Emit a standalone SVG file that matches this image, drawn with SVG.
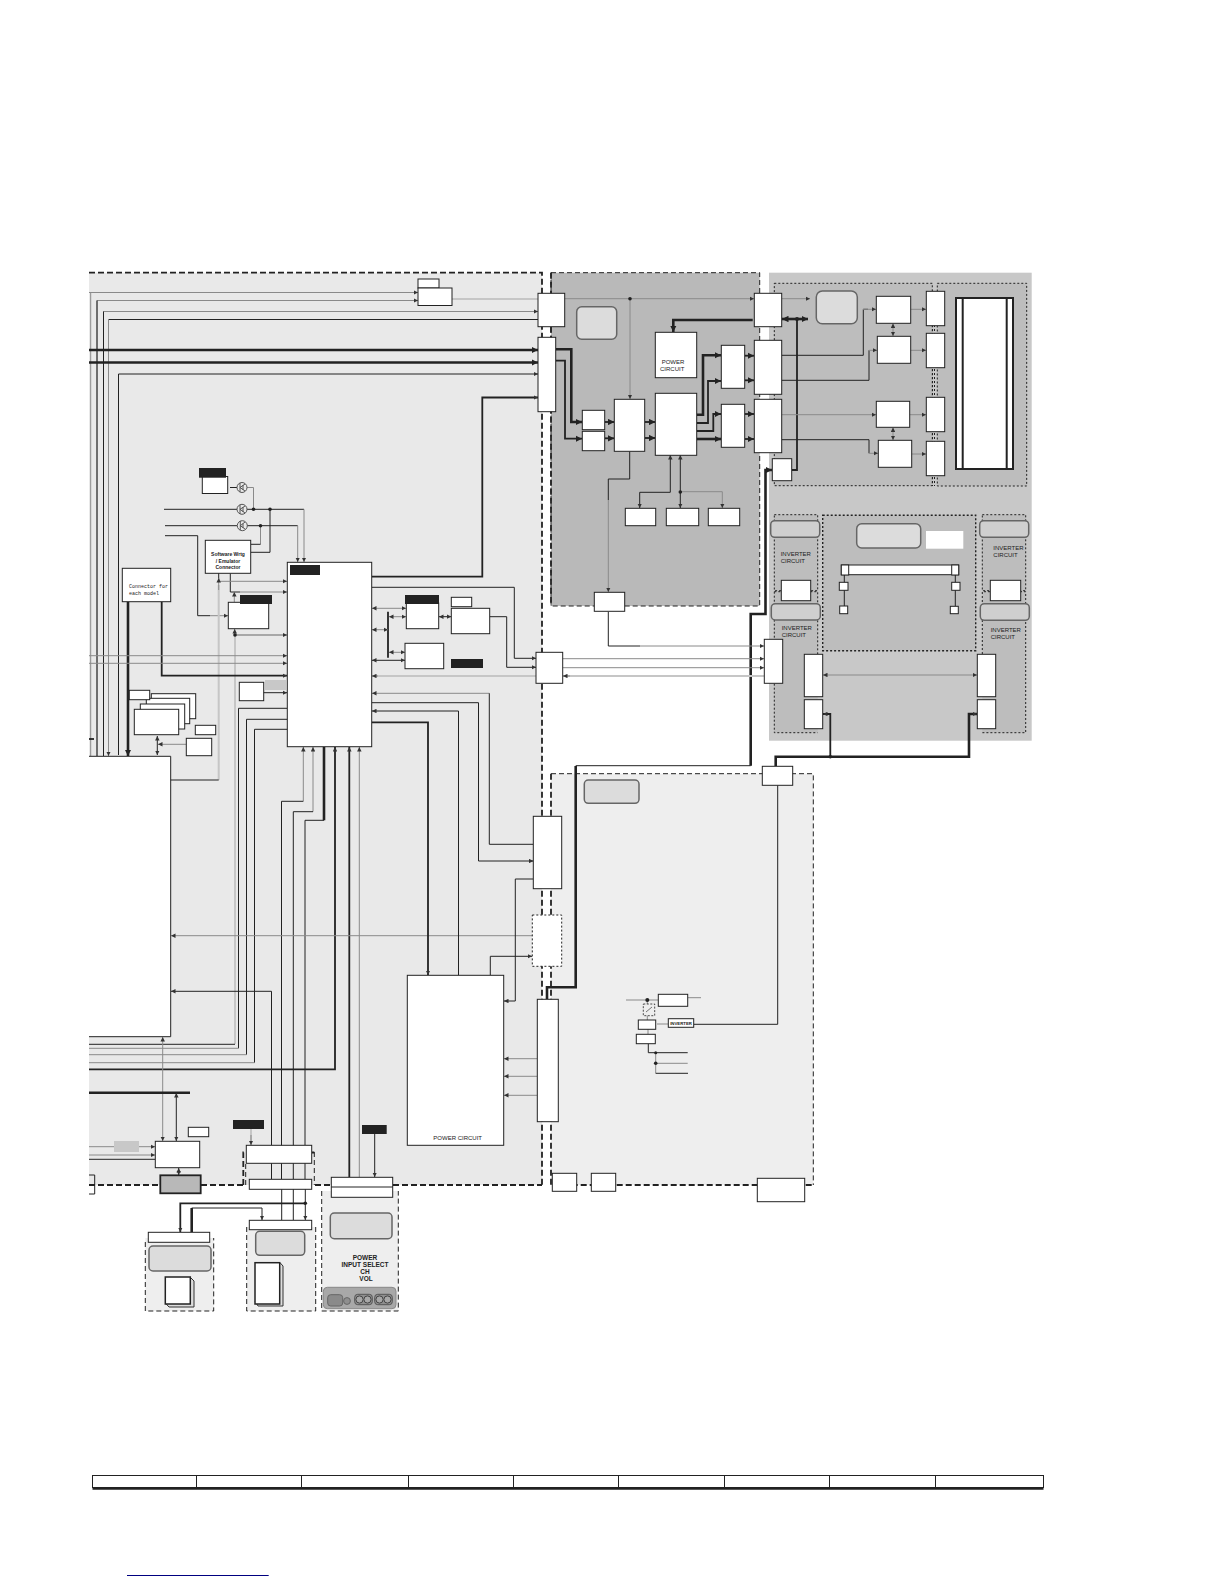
<svg xmlns="http://www.w3.org/2000/svg" width="1224" height="1584" viewBox="0 0 1224 1584">
<style>
.b{fill:#fff;stroke:#222;stroke-width:1}
.lbl{fill:#222;stroke:none}
.r{fill:#dcdcdc;stroke:#666;stroke-width:1.5}
.k,.g,.lg,.t,.T{fill:none}
.k{stroke:#222;stroke-width:1}
.g{stroke:#8a8a8a;stroke-width:1}
.lg{stroke:#c6c6c6;stroke-width:2}
.t{stroke:#222;stroke-width:1.8}
.T{stroke:#222;stroke-width:2.6}
.d{fill:#222;stroke:none}
.dash{fill:none;stroke:#222;stroke-width:1;stroke-dasharray:5 3}
.dashT{fill:none;stroke:#222;stroke-width:1.8;stroke-dasharray:6 3}
.dot{fill:none;stroke:#222;stroke-width:1;stroke-dasharray:2 2}
.txt{font-family:"Liberation Sans",Arial,sans-serif;font-size:6px;fill:#222}
.mono{font-family:"Liberation Mono",monospace;font-size:5px;fill:#222}
.bold{font-family:"Liberation Sans",Arial,sans-serif;font-size:6.5px;font-weight:bold;fill:#222;text-anchor:middle}
</style>
<defs>
<marker id="a" viewBox="0 0 6 6" refX="6" refY="3" markerWidth="4.5" markerHeight="4.5" markerUnits="userSpaceOnUse" orient="auto-start-reverse"><path d="M0 0L6 3L0 6z" fill="#333"/></marker>
<marker id="A" viewBox="0 0 6 6" refX="6" refY="3" markerWidth="6.5" markerHeight="6.5" markerUnits="userSpaceOnUse" orient="auto-start-reverse"><path d="M0 0L6 3L0 6z" fill="#222"/></marker>
</defs>
<rect width="1224" height="1584" fill="#fff"/>

<g id="backgrounds">
<rect x="89" y="272.7" width="453" height="912.3" fill="#e9e9e9"/>
<rect x="89" y="756.3" width="81.7" height="280.4" fill="#fff"/>
<rect x="551" y="272.7" width="208.7" height="333.3" fill="#b9b9b9"/>
<rect x="769" y="272.7" width="262.7" height="468" fill="#c8c8c8"/>
<rect x="774.3" y="283.3" width="158" height="202.4" fill="#bdbdbd"/>
<rect x="937.3" y="283.3" width="89.4" height="202.7" fill="#bdbdbd"/>
<rect x="774.3" y="514.7" width="43.4" height="218" fill="#bdbdbd"/>
<rect x="982.3" y="514.7" width="43.4" height="218" fill="#bdbdbd"/>
<rect x="822.7" y="515.3" width="153" height="135.4" fill="#bdbdbd"/>
<rect x="551" y="773.7" width="262.3" height="411.3" fill="#eee"/>
<rect x="145.3" y="1238" width="68.4" height="73" fill="#eee"/>
<rect x="246.7" y="1227" width="69" height="84" fill="#eee"/>
<rect x="321.7" y="1191" width="76.6" height="120" fill="#eee"/>
</g>

<g id="borders">
<path class="dashT" d="M89 272.7H542V1185M89 1185H160M201 1185H243M315 1185H331M393 1185H542"/>
<path class="dash" d="M551 272.7H759.7V606H551Z"/>
<path class="dashT" d="M551 272.7V606"/>
<path class="dashT" d="M551 773.7V1185H813"/>
<path class="dash" d="M551 773.7H813.3V1185"/>
<path class="dash" d="M145.3 1242V1311H213.7V1238"/>
<path class="dash" d="M246.7 1227V1311H315.7V1227"/>
<path class="dash" d="M321.7 1191V1311H398.3V1191"/>
<path class="dashT" d="M243.3 1185V1152.5H246M312 1152.5H314.3"/>
<path class="dash" d="M245.7 1185V1163M314.3 1152V1185"/>
<rect class="dot" x="774.3" y="283.3" width="158" height="202.4"/>
<rect class="dot" x="937.3" y="283.3" width="89.4" height="202.7"/>
<path class="dot" d="M934.5 325V486M932.5 325V486"/>
<rect class="dot" x="822.7" y="515.3" width="153" height="135.4" style="stroke-width:1.4"/>
<rect class="dot" x="774.3" y="514.7" width="43.4" height="76"/>
<path class="dot" d="M774.3 591.7H817.7V654M774.3 591.7V732.7H817.7"/>
<rect class="dot" x="982.3" y="514.7" width="43.4" height="76"/>
<path class="dot" d="M982.3 654V591.7H1025.7V732.7H982.3"/>
</g>

<g id="connectors">
<!-- top left bus -->
<path class="g" d="M89 292.5H418" marker-end="url(#a)"/>
<path class="g" d="M97 756V300.5H418" marker-end="url(#a)"/>
<path class="g" d="M103.5 756V311.5H538" marker-end="url(#a)"/>
<path class="k" d="M108.5 319.5H538"/>
<path class="g" d="M108.5 319.5V756" marker-end="url(#a)"/>
<path class="k" d="M97 300.5V756M103.5 311.5V756"/>
<path class="g" d="M90.7 292.5V756"/>
<path class="lg" d="M452 299H538"/>
<path class="T" d="M89 350H538" marker-end="url(#A)"/>
<path class="T" d="M89 362.5H538" marker-end="url(#A)"/>
<path class="k" d="M118.5 755V374H538" marker-end="url(#a)"/>
<path class="t" d="M371.7 576.7H482.3V397.5H538" marker-end="url(#a)"/>
<path class="t" d="M89 739H94"/>
<!-- transistors wiring -->
<path class="k" d="M230 487.5H237"/>
<path class="g" d="M247 487.5H253.5V509.3"/>
<path class="k" d="M164 509.3H237M247 509.3H304"/>
<path class="g" d="M304 509.3V562" marker-end="url(#a)"/>
<path class="k" d="M165 525.7H237M247 525.7H297.7"/>
<path class="g" d="M297.7 525.7V562" marker-end="url(#a)"/>
<path class="g" d="M260.5 525.7V544.3"/>
<path class="k" d="M250.7 544.3H260.5"/>
<path class="k" d="M250.7 552.3H270V509.3"/>
<path class="k" d="M165 535.7H197.7V615.7H210"/>
<path class="g" d="M210 615.7H228" marker-end="url(#a)"/>
<path class="k" d="M230.3 573.3V592H240"/>
<path class="g" d="M240 592H287" marker-end="url(#a)"/>
<path class="g" d="M234.3 592V602" marker-start="url(#a)"/>
<path class="lg" d="M218.7 585V780"/>
<path class="k" d="M218.7 580V573M170.7 780H218.7"/>
<path class="g" d="M218.7 581.3H287" marker-end="url(#a)"/>
<path class="g" d="M218.7 590V578" marker-end="url(#a)"/>
<path class="lg" d="M235 635V1044"/>
<path class="lg" d="M235 635H287"/>
<path class="g" d="M235 635H287" marker-end="url(#a)"/>
<path class="g" d="M234.7 635V629" marker-end="url(#a)"/>
<!-- connector for each model -->
<path class="T" d="M128 601.7V756" marker-end="url(#A)"/>
<path class="t" d="M161.7 601.7V675.7H287" marker-end="url(#a)"/>
<path class="g" d="M89 655.7H287" marker-end="url(#a)"/>
<path class="g" d="M89 663.3H287" marker-end="url(#a)"/>
<path class="k" d="M262 692.7H287" marker-end="url(#a)"/>
<path class="k" d="M157.3 736V755" marker-start="url(#a)" marker-end="url(#a)"/>
<path class="g" d="M186 744.3H158" marker-end="url(#a)"/>
<!-- main chip left lower -->
<path class="k" d="M287.3 708.3H238.5V1048.3"/>
<path class="k" d="M287.3 719.3H246.5V1054.7"/>
<path class="k" d="M287.3 729.3H254.5V1062.7"/>
<path class="k" d="M89 1044.3H235"/>
<path class="g" d="M89 1048.3H238.5"/>
<path class="g" d="M89 1054.7H246.5"/>
<path class="g" d="M89 1062.7H254.5"/>
<path class="t" d="M89 1069.3H335V747" marker-end="url(#a)"/>
<path class="k" d="M170.7 756.3H89M170.7 756.3V1036.7H89"/>
<path class="g" d="M303.3 801.3V747" marker-end="url(#a)"/>
<path class="k" d="M303.3 801.3H281.5V1179"/>
<path class="g" d="M313 811.7V747" marker-end="url(#a)"/>
<path class="k" d="M313 811.7H293.3V1179"/>
<path class="T" d="M324 747V820.3"/>
<path class="k" d="M324 820.3H305V1145"/>
<path class="k" d="M305 1163V1179"/>
<path class="t" d="M349.3 1177V747" marker-end="url(#a)"/>
<path class="g" d="M359.3 1177V747" marker-end="url(#a)"/>
<path class="g" d="M532 935.7H171" marker-end="url(#a)"/>
<path class="k" d="M271.5 1145V991.3H171" marker-end="url(#a)"/>
<path class="k" d="M271.5 1163V1179"/>
<path class="g" d="M162.7 1037V1141" marker-start="url(#a)" marker-end="url(#a)"/>
<path class="T" d="M89 1092.7H190"/>
<path class="k" d="M176.3 1093V1141" marker-start="url(#a)" marker-end="url(#a)"/>
<path class="k" d="M178.7 1168V1175" marker-start="url(#a)" marker-end="url(#a)"/>
<path class="g" d="M89 1146.7H155" marker-end="url(#a)"/>
<path class="g" d="M89 1155H155" marker-end="url(#a)"/>
<path class="k" d="M89 1159.3H155"/>
<!-- main chip right -->
<path class="t" d="M388 611.7V657.7"/>
<path class="g" d="M372 608.3H406" marker-start="url(#a)" marker-end="url(#a)"/>
<path class="g" d="M389 616.7H406" marker-start="url(#a)" marker-end="url(#a)"/>
<path class="g" d="M372 629.7H388" marker-start="url(#a)" marker-end="url(#a)"/>
<path class="g" d="M389 652.3H405" marker-start="url(#a)" marker-end="url(#a)"/>
<path class="k" d="M372 660.3H405" marker-start="url(#a)" marker-end="url(#a)"/>
<path class="k" d="M439 616.7H451.3" marker-start="url(#a)" marker-end="url(#a)"/>
<path class="k" d="M371.7 587.3H514.3V658.3H536" marker-end="url(#a)"/>
<path class="k" d="M489.7 616.7H506.7V667.3H536" marker-end="url(#a)"/>
<path class="lg" d="M372 676H536"/>
<path class="g" d="M378 676H372" marker-end="url(#a)"/>
<path class="g" d="M489.3 693.3H372" marker-end="url(#a)"/>
<path class="k" d="M489.3 693.3V844.3H533.3"/>
<path class="k" d="M371.7 702.7H478.5V861H533.3" marker-end="url(#a)"/>
<path class="k" d="M458.5 711H372" marker-end="url(#a)"/>
<path class="k" d="M458.5 711V975.3"/>
<path class="t" d="M371.7 722.3H428V975" marker-end="url(#a)"/>
<!-- power circuit -->
<path class="k" d="M533.3 879H515.3V1001H504" marker-end="url(#a)"/>
<path class="k" d="M490.3 975V956.3H532" marker-end="url(#a)"/>
<path class="g" d="M537 1058.7H504" marker-end="url(#a)"/>
<path class="g" d="M537 1076.3H504" marker-end="url(#a)"/>
<path class="g" d="M537 1095.3H504" marker-end="url(#a)"/>
<!-- thick main feed -->
<path class="T" d="M547 999V987.3H575.7V766"/>
<path class="k" d="M575.7 765.7H750.7"/>
<path class="T" d="M750.7 765.7V614H765.5V470H772" marker-end="url(#A)"/>
<path class="g" d="M562.7 658.7H764" marker-end="url(#a)"/>
<path class="g" d="M562.7 667.7H764" marker-end="url(#a)"/>
<path class="lg" d="M563 676H764"/>
<path class="g" d="M570 676H563" marker-end="url(#a)"/>
<path class="k" d="M608.3 611.7V646H640"/>
<path class="g" d="M640 646H764" marker-end="url(#a)"/>
<!-- board 2 -->
<path class="g" d="M564.7 298.7H754" marker-end="url(#a)"/>
<path class="g" d="M630 298.7V399" marker-end="url(#a)"/>
<path class="g" d="M781.7 298.7H810" marker-end="url(#a)"/>
<path class="T" d="M752.7 320H673.3V332" marker-end="url(#A)"/>
<path class="T" d="M782 319H808" marker-start="url(#A)" marker-end="url(#A)"/>
<path class="t" d="M797 319V470H792"/>
<path class="T" d="M555.7 349.3H571.3V422H582" marker-end="url(#A)"/>
<path class="t" d="M555.7 360.7H565V438.7H582" marker-end="url(#A)"/>
<path class="t" d="M604.7 422H614.3" marker-end="url(#A)"/>
<path class="t" d="M604.7 438.3H614.3" marker-end="url(#A)"/>
<path class="t" d="M644.7 422H655.3" marker-end="url(#A)"/>
<path class="t" d="M644.7 438H655.3" marker-end="url(#A)"/>
<path class="T" d="M696.7 414.7H703V355.3H721" marker-end="url(#A)"/>
<path class="t" d="M696.7 423H708V381H721" marker-end="url(#A)"/>
<path class="t" d="M696.7 431H713.3V414H721" marker-end="url(#A)"/>
<path class="T" d="M696.7 439H721" marker-end="url(#A)"/>
<path class="t" d="M744.7 355.7H754" marker-end="url(#A)"/>
<path class="t" d="M744.7 380.3H754" marker-end="url(#A)"/>
<path class="t" d="M744.7 414H754" marker-end="url(#A)"/>
<path class="t" d="M744.7 439H754" marker-end="url(#A)"/>
<path class="k" d="M670.3 455V492.3H639.7V508" marker-start="url(#a)" marker-end="url(#a)"/>
<path class="k" d="M680.3 455V508" marker-start="url(#a)" marker-end="url(#a)"/>
<path class="g" d="M680.3 491.7H722.3V508" marker-end="url(#a)"/>
<path class="k" d="M629.7 451.3V479H608.3V500"/>
<path class="g" d="M608.3 500V592" marker-end="url(#a)"/>
<!-- panel -->
<path class="k" d="M781.7 355.3H863.3V309.3H868"/>
<path class="g" d="M863 309.3H876" marker-end="url(#a)"/>
<path class="k" d="M781.7 380.3H869V350.3"/>
<path class="g" d="M869 350.3H877" marker-end="url(#a)"/>
<path class="g" d="M781.7 414.7H876" marker-end="url(#a)"/>
<path class="k" d="M781.7 439.7H869V453.3"/>
<path class="g" d="M869 453.3H878" marker-end="url(#a)"/>
<path class="g" d="M893 323.5V336" marker-start="url(#a)" marker-end="url(#a)"/>
<path class="g" d="M893 427.5V440" marker-start="url(#a)" marker-end="url(#a)"/>
<path class="g" d="M906 309.3H926" marker-end="url(#a)"/>
<path class="g" d="M906 350.3H926" marker-end="url(#a)"/>
<path class="g" d="M906 414.7H926" marker-end="url(#a)"/>
<path class="g" d="M908 454H926" marker-end="url(#a)"/>
<path class="g" d="M823 675H977" marker-start="url(#a)" marker-end="url(#a)"/>
<path class="T" d="M775.7 766V756.7H969V714H977" marker-end="url(#a)"/>
<path class="t" d="M830.3 756.7V714H823" marker-end="url(#a)"/>
<path class="k" d="M844.3 575V606M955.3 575V606"/>
<path class="k" d="M777.7 785.3V1024.3H693.7"/>
<!-- small circuit -->
<path class="g" d="M626 1000H658.3"/>
<path class="g" d="M687.7 997.7H701"/>
<path class="g" d="M647.3 1000V1020"/>
<path class="g" d="M657 1024H668"/>
<path class="g" d="M648 1029V1034"/>
<path class="k" d="M648.3 1043.7V1052.7H687.7"/>
<path class="g" d="M655.7 1052.7V1073.3"/>
<path class="g" d="M655.7 1063.3H687.7"/>
<path class="k" d="M655.7 1073.3H688"/>
<!-- bottom cables -->
<path class="lg" d="M251 1129V1145"/>
<path class="g" d="M251 1135V1145" marker-end="url(#a)"/>
<path class="k" d="M374.7 1134V1177" marker-end="url(#a)"/>
<path class="t" d="M305.3 1203.3H180.3V1232" marker-end="url(#a)"/>
<path class="k" d="M305.3 1189V1220" marker-end="url(#a)"/>
<path class="k" d="M281.7 1189V1220M293.3 1189V1220"/>
<path class="T" d="M191.7 1232V1208"/>
<path class="k" d="M191.7 1208H262V1220" marker-end="url(#a)"/>
<!-- dots -->
<circle class="d" cx="253.5" cy="509.3" r="1.8"/>
<circle class="d" cx="270" cy="509.3" r="1.8"/>
<circle class="d" cx="260.5" cy="525.7" r="1.8"/>
<circle class="d" cx="235" cy="635" r="1.8"/>
<circle class="d" cx="630" cy="298.7" r="1.8"/>
<circle class="d" cx="680.3" cy="492" r="1.8"/>
<circle class="d" cx="797" cy="319" r="2"/>
<circle class="d" cx="830.3" cy="756.7" r="1.8"/>
<circle class="d" cx="647.3" cy="1000" r="2"/>
<circle class="d" cx="655.7" cy="1052.7" r="1.5"/>
<circle class="d" cx="655.7" cy="1063.3" r="1.8"/>
<circle class="d" cx="305.3" cy="1203.3" r="1.8"/>
</g>

<g id="transistors">
<g fill="#e9e9e9" stroke="#555" stroke-width="1">
<g id="q1"><circle cx="242" cy="487.5" r="5"/><path d="M240 483V492M240 487.5L245 484M240 487.5L245 491M243 485V490"/></g>
<g id="q2"><circle cx="242" cy="509.3" r="5"/><path d="M240 505V514M240 509.3L245 506M240 509.3L245 513M243 507V512"/></g>
<g id="q3"><circle cx="242.3" cy="525.7" r="5"/><path d="M240.3 521V530M240.3 525.7L245 522M240.3 525.7L245 529M243 523.5V528"/></g>
</g>
</g>

<g id="n-u1"><rect class="b" x="418" y="279" width="21" height="9"/><rect class="b" x="418" y="288" width="34" height="17.5"/></g>
<g id="n-con-a"><rect class="b" x="538" y="293.3" width="26.7" height="33.4"/></g>
<g id="n-con-b"><rect class="b" x="538" y="337.3" width="17.7" height="74.4"/></g>
<g id="n-q-box"><rect class="b" x="202.3" y="476.5" width="25.4" height="17"/><rect class="lbl" x="199" y="468" width="27" height="9.7"/></g>
<g id="n-sw"><rect class="b" x="205.3" y="540.3" width="45.4" height="33"/>
<text class="bold" style="font-size:5px" x="228" y="556">Software Wrtg</text>
<text class="bold" style="font-size:5px" x="228" y="562.5">/ Emulator</text>
<text class="bold" style="font-size:5px" x="228" y="569">Connector</text></g>
<g id="n-conn"><rect class="b" x="122.3" y="568.3" width="48.4" height="33.4"/>
<text class="mono" x="129" y="587.5">Connector for</text>
<text class="mono" x="129" y="594.5">each model</text></g>
<g id="n-main"><rect class="b" x="287.3" y="562.3" width="84.4" height="184.4"/><rect class="lbl" x="290" y="565" width="30" height="10"/></g>
<g id="n-m1"><rect class="b" x="228.3" y="602.3" width="40.4" height="26.4"/><rect class="lbl" x="240" y="595" width="32" height="9"/></g>
<g id="n-m2"><rect class="b" x="406.3" y="603" width="32.4" height="25.7"/><rect class="lbl" x="405" y="595" width="34" height="9"/></g>
<g id="n-m3"><rect class="b" x="451.3" y="597.3" width="20.4" height="9.4"/><rect class="b" x="451.3" y="608.3" width="38.4" height="25.4"/></g>
<g id="n-m4"><rect class="b" x="405" y="643.3" width="38.7" height="25.4"/><rect class="lbl" x="451" y="659" width="32" height="9"/></g>
<g id="n-m5"><rect class="b" x="239.3" y="682.3" width="24.4" height="18.4"/><rect x="265" y="680" width="21" height="10" fill="#c8c8c8"/></g>
<g id="n-stack">
<rect class="b" x="151.3" y="693.7" width="44.4" height="25"/>
<rect class="b" x="146.3" y="698.3" width="43.4" height="25.4"/>
<rect class="b" x="140.3" y="704" width="44.4" height="25"/>
<rect class="b" x="134.3" y="709.3" width="44.4" height="25.4"/>
<rect class="b" x="129.3" y="690.3" width="20.4" height="9.4"/></g>
<g id="n-s1"><rect class="b" x="195.3" y="725.3" width="20.4" height="9.4"/></g>
<g id="n-s2"><rect class="b" x="186.3" y="738.3" width="25.4" height="17.4"/></g>
<g id="n-r1"><rect class="b" x="536" y="652.3" width="26.7" height="31"/></g>
<g id="n-r2"><rect class="b" x="594.3" y="592.3" width="30.4" height="19"/></g>
<g id="n-r3"><rect class="b" x="764.3" y="639.3" width="18.4" height="44"/></g>
<g id="n-r4"><rect class="b" x="533.3" y="816.3" width="28.4" height="72.4"/></g>
<g id="n-r5"><rect x="532.3" y="915" width="29.4" height="51.3" fill="#fff" stroke="#222" stroke-dasharray="2 2"/></g>
<g id="n-r6"><rect class="b" x="537.3" y="999.3" width="21" height="122.4"/></g>
<g id="n-pc"><rect class="b" x="407.3" y="975.3" width="96.4" height="170"/><text class="txt" x="457.7" y="1139.5" text-anchor="middle">POWER CIRCUIT</text></g>
<g id="n-b1"><rect class="b" x="552.3" y="1173.3" width="24.4" height="18"/></g>
<g id="n-b2"><rect class="b" x="591.3" y="1173.3" width="24.4" height="18"/></g>
<g id="n-b3"><rect class="b" x="757.3" y="1178.3" width="47.4" height="23.4"/></g>
<g id="n-b4"><rect class="r" x="584.3" y="780" width="54.7" height="23.3" rx="4"/></g>
<g id="n-b5"><rect class="b" x="762.3" y="766.3" width="30.4" height="19"/></g>
<!-- board 2 nodes -->
<g id="n-p1"><rect class="r" x="576.7" y="306.7" width="40" height="32.6" rx="5"/></g>
<g id="n-pwr"><rect class="b" x="655.3" y="332.3" width="41.4" height="45.4"/><text class="txt" x="661.7" y="363.5">POWER</text><text class="txt" x="660" y="371">CIRCUIT</text></g>
<g id="n-p2"><rect class="b" x="655.3" y="393.3" width="41.4" height="62"/></g>
<g id="n-p3"><rect class="b" x="614.3" y="399.3" width="30.4" height="52"/></g>
<g id="n-p4"><rect class="b" x="582.3" y="410.3" width="22.4" height="19.4"/></g>
<g id="n-p5"><rect class="b" x="582.3" y="431.3" width="22.4" height="19.4"/></g>
<g id="n-p6"><rect class="b" x="721.3" y="345.3" width="23.4" height="43"/></g>
<g id="n-p7"><rect class="b" x="721.3" y="404.3" width="23.4" height="43"/></g>
<g id="n-p8"><rect class="b" x="754.3" y="293.3" width="27.4" height="33.4"/></g>
<g id="n-p9"><rect class="b" x="754.3" y="340.3" width="27.4" height="54"/></g>
<g id="n-p10"><rect class="b" x="754.3" y="399.3" width="27.4" height="53.4"/></g>
<g id="n-p11"><rect class="b" x="625.3" y="508.3" width="30.4" height="17.4"/></g>
<g id="n-p12"><rect class="b" x="666.3" y="508.3" width="32.4" height="17.4"/></g>
<g id="n-p13"><rect class="b" x="708.3" y="508.3" width="31.4" height="17.4"/></g>
<!-- LCD panel nodes -->
<g id="n-l0"><rect class="b" x="772.3" y="458.7" width="19.4" height="22"/></g>
<g id="n-l1"><rect class="r" x="816.3" y="291" width="41" height="32.7" rx="6"/></g>
<g id="n-l2"><rect class="b" x="876.3" y="296.3" width="34.4" height="27"/></g>
<g id="n-l3"><rect class="b" x="877.3" y="336.3" width="33.4" height="27"/></g>
<g id="n-l4"><rect class="b" x="876.3" y="401.3" width="33.4" height="26"/></g>
<g id="n-l5"><rect class="b" x="878.3" y="440.3" width="33.4" height="27"/></g>
<g id="n-l6"><rect class="b" x="926.3" y="291.3" width="18.4" height="34.4"/></g>
<g id="n-l7"><rect class="b" x="926.3" y="333.3" width="18.4" height="34.4"/></g>
<g id="n-l8"><rect class="b" x="926.3" y="397.3" width="18.4" height="34.4"/></g>
<g id="n-l9"><rect class="b" x="926.3" y="441.3" width="18.4" height="34.4"/></g>
<g id="n-lcd"><rect x="956" y="298" width="57" height="171" fill="#fff" stroke="#222" stroke-width="2"/><path d="M962.7 298V469M1006.7 298V469" stroke="#222" stroke-width="2"/></g>
<g id="n-i1"><rect class="r" x="770.7" y="520.7" width="49" height="16.6" rx="4" style="fill:#cfcfcf"/><text class="txt" x="780.7" y="556">INVERTER</text><text class="txt" x="780.7" y="563">CIRCUIT</text><rect class="b" x="781.3" y="580.3" width="29.4" height="20.4"/></g>
<g id="n-i2"><rect class="r" x="771.3" y="603.7" width="49" height="16.3" rx="4" style="fill:#cfcfcf"/><text class="txt" x="781.7" y="629.5">INVERTER</text><text class="txt" x="781.7" y="636.5">CIRCUIT</text></g>
<g id="n-i3"><rect class="r" x="979.7" y="520.7" width="49" height="16.6" rx="4" style="fill:#cfcfcf"/><text class="txt" x="993.3" y="549.5">INVERTER</text><text class="txt" x="993.3" y="556.5">CIRCUIT</text><rect class="b" x="990.3" y="580.3" width="30.4" height="20.4"/></g>
<g id="n-i4"><rect class="r" x="980.3" y="603.7" width="49" height="16.6" rx="4" style="fill:#cfcfcf"/><text class="txt" x="990.7" y="631.5">INVERTER</text><text class="txt" x="990.7" y="638.5">CIRCUIT</text></g>
<g id="n-c1"><rect class="r" x="856.7" y="523.7" width="64" height="24.3" rx="5"/><rect x="926" y="531" width="37.3" height="17.7" fill="#fff"/></g>
<g id="n-tube"><rect class="b" x="841.3" y="565" width="117.4" height="9.7"/><rect class="b" x="841.3" y="565" width="7.4" height="10"/><rect class="b" x="951.7" y="565" width="7" height="10"/></g>
<g id="n-t1"><rect class="b" x="839.3" y="582.3" width="8.7" height="8"/></g>
<g id="n-t2"><rect class="b" x="951.7" y="582.3" width="8.3" height="8"/></g>
<g id="n-t3"><rect class="b" x="839.7" y="606" width="8" height="7.7"/></g>
<g id="n-t4"><rect class="b" x="950.3" y="606.3" width="8" height="7.4"/></g>
<g id="n-e1"><rect class="b" x="804.3" y="654.3" width="18.4" height="42.4"/></g>
<g id="n-e2"><rect class="b" x="804.3" y="699.7" width="18.4" height="29"/></g>
<g id="n-e3"><rect class="b" x="977.3" y="654.3" width="18.4" height="42.4"/></g>
<g id="n-e4"><rect class="b" x="977.3" y="699.7" width="18.4" height="29"/></g>
<!-- small circuit nodes -->
<g id="n-x1"><rect class="b" x="658.3" y="994.3" width="29.4" height="12"/></g>
<g id="n-x2"><rect x="643.3" y="1004" width="11.4" height="11.7" fill="#eee" stroke="#222" stroke-dasharray="2 1.5" stroke-width=".8"/><path d="M646 1012L652 1007" stroke="#555" stroke-width=".8"/></g>
<g id="n-x3"><rect class="b" x="638.3" y="1020" width="17.4" height="9.3"/></g>
<g id="n-x4"><rect class="b" x="636.3" y="1034.3" width="19" height="9.4"/></g>
<g id="n-inv"><rect class="b" x="668.3" y="1018.7" width="25.4" height="8.6"/><text class="bold" style="font-size:4.3px" x="681" y="1024.7">INVERTER</text></g>
<!-- bottom nodes -->
<g id="n-z0"><rect x="114" y="1141" width="25" height="11" fill="#c8c8c8"/></g>
<g id="n-z1"><rect class="b" x="155.3" y="1141.3" width="44.4" height="26.4"/></g>
<g id="n-z2"><rect class="b" x="188.3" y="1127.3" width="20.4" height="9.4"/></g>
<g id="n-z3"><rect x="160.3" y="1175.3" width="40.4" height="18" fill="#b8b8b8" stroke="#222" stroke-width="1.8"/></g>
<g id="n-z4"><path class="k" d="M89 1175H94.7V1194H89"/></g>
<g id="n-z5"><rect class="lbl" x="233" y="1120" width="31" height="9"/><rect class="b" x="246.3" y="1145.3" width="65.4" height="18"/></g>
<g id="n-z6"><rect class="b" x="249.3" y="1179.3" width="62.4" height="10"/></g>
<g id="n-z7"><rect class="b" x="249.3" y="1220.3" width="62.4" height="9.4"/><rect class="r" x="255.7" y="1231.3" width="49" height="24" rx="4"/></g>
<g id="n-z8"><path d="M255 1301L258 1306H283V1266L280 1262.7" fill="#ddd" stroke="#333"/><rect x="255" y="1262.7" width="24.7" height="41.3" fill="#fff" stroke="#222" stroke-width="1.5"/></g>
<g id="n-z9"><rect class="b" x="148.3" y="1232.3" width="61.4" height="10"/><rect class="r" x="149" y="1246" width="62" height="25" rx="4"/></g>
<g id="n-z10"><path d="M165.3 1303L169 1307H194V1281L190 1277" fill="#ddd" stroke="#333"/><rect x="165.3" y="1277" width="25" height="27" fill="#fff" stroke="#222" stroke-width="1.5"/></g>
<g id="n-z11"><rect class="lbl" x="362" y="1125" width="24.7" height="9"/><rect class="b" x="331.3" y="1177.3" width="61.4" height="20"/><path class="k" d="M331.3 1187H392.7"/></g>
<g id="n-z12"><rect class="r" x="330.3" y="1213" width="61.7" height="25.7" rx="4"/>
<text class="bold" x="365" y="1259.5">POWER</text><text class="bold" x="365" y="1266.5">INPUT SELECT</text><text class="bold" x="365" y="1273.5">CH</text><text class="bold" x="366" y="1280.5">VOL</text></g>
<g id="n-z13"><rect x="323.3" y="1287.3" width="72.7" height="21.4" rx="4" fill="#a8a8a8" stroke="#888"/>
<rect x="327.7" y="1294.7" width="15" height="11.3" rx="3" fill="#8a8a8a" stroke="#666"/><circle cx="347" cy="1301" r="3.4" fill="#8f8f8f" stroke="#666"/>
<rect x="354.7" y="1294.3" width="17.6" height="10.4" rx="3" fill="#8f8f8f" stroke="#555"/><circle cx="359.5" cy="1299.5" r="3.6" fill="#a8a8a8" stroke="#444"/><circle cx="367.5" cy="1299.5" r="3.6" fill="#a8a8a8" stroke="#444"/>
<rect x="374.7" y="1294.3" width="17.6" height="10.4" rx="3" fill="#8f8f8f" stroke="#555"/><circle cx="379.5" cy="1299.5" r="3.6" fill="#a8a8a8" stroke="#444"/><circle cx="387.5" cy="1299.5" r="3.6" fill="#a8a8a8" stroke="#444"/></g>

<g id="footer">
<rect x="92.5" y="1475.5" width="951" height="12" fill="#fff" stroke="#222" stroke-width="1"/>
<path d="M92.5 1488.5H1043.5" stroke="#222" stroke-width="2.5"/>
<path d="M196.5 1475V1487M301.5 1475V1487M408.5 1475V1487M513.5 1475V1487M618.5 1475V1487M724.5 1475V1487M829.5 1475V1487M935.5 1475V1487" stroke="#222" stroke-width="1"/>
<path d="M127 1575.5H268.7" stroke="#000080" stroke-width="1"/>
</g>
</svg>
